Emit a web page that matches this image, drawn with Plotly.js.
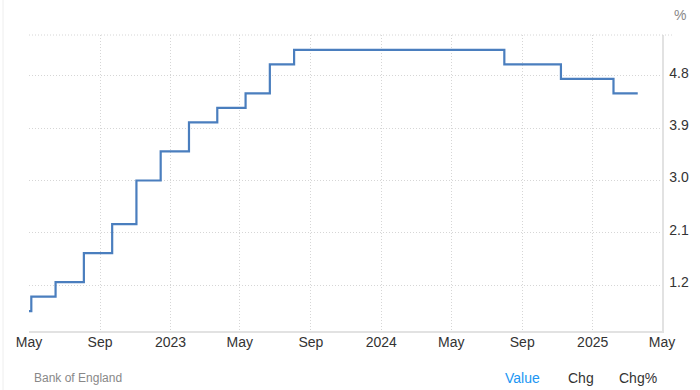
<!DOCTYPE html>
<html>
<head>
<meta charset="utf-8">
<script src="https://cdn.plot.ly/plotly-3.0.1.min.js"></script>
<style>
html,body{margin:0;padding:0;background:#fff;}
#chart{width:700px;height:390px;}
</style>
</head>
<body>
<div id="chart"></div>
<script>
var dates = ["2022-05-01","2022-05-05","2022-06-16","2022-08-04","2022-09-22","2022-11-03","2022-12-15","2023-02-02","2023-03-23","2023-05-11","2023-06-22","2023-08-03","2024-08-01","2024-11-07","2025-02-06","2025-03-20"];
var rates = [0.75,1.0,1.25,1.75,2.25,3.0,3.5,4.0,4.25,4.5,5.0,5.25,5.0,4.75,4.5,4.5];
var xTickVals = ["2022-05-01","2022-09-01","2023-01-01","2023-05-01","2023-09-01","2024-01-01","2024-05-01","2024-09-01","2025-01-01","2025-05-01"];
var xTickText = ["May","Sep","2023","May","Sep","2024","May","Sep","2025","May"];
var yTickVals = [1.2,2.1,3.0,3.9,4.8];
var yTickText = ["1.2","2.1","3.0","3.9","4.8"];

var trace = {
  x: dates, y: rates, type: "scatter", mode: "lines",
  line: {shape: "hv", color: "#4a7ebe", width: 2.2},
  hoverinfo: "x+y"
};

var layout = {
  width: 700, height: 390,
  margin: {l: 29, r: 38, t: 35, b: 59},
  paper_bgcolor: "#fff", plot_bgcolor: "#fff",
  showlegend: false,
  font: {family: "Liberation Sans, Arial, sans-serif", color: "#333", size: 14},
  xaxis: {
    type: "date",
    range: ["2022-05-01", "2025-05-01"],
    tickmode: "array", tickvals: xTickVals, ticktext: xTickText,
    showgrid: true, gridcolor: "#d6d6d6", griddash: "1px,2px", gridwidth: 1,
    showline: true, linecolor: "#e2e2e2", linewidth: 1.5,
    ticks: "", ticklabelstandoff: -2, tickfont: {size: 14, color: "#333"},
    zeroline: false, fixedrange: true
  },
  yaxis: {
    side: "right",
    range: [0.408, 5.506],
    tickmode: "array", tickvals: yTickVals, ticktext: yTickText,
    showgrid: true, gridcolor: "#d6d6d6", griddash: "1px,2px", gridwidth: 1,
    showline: true, linecolor: "#e2e2e2", linewidth: 1.5,
    ticks: "", ticklabelstandoff: 3, ticklabelshift: -3, tickfont: {size: 14, color: "#333"},
    zeroline: false, fixedrange: true
  },
  shapes: [
    {type: "line", xref: "paper", yref: "paper", x0: 0, x1: 1.0158, y0: 1, y1: 1,
     line: {color: "#d6d6d6", width: 1, dash: "1px,2px"}},
    {type: "line", xref: "paper", yref: "paper", x0: -0.041, x1: -0.041, y0: -0.2, y1: 1.15,
     line: {color: "#eeeeee", width: 1}}
  ],
  annotations: [
    {text: "%", xref: "paper", yref: "paper", x: (680-29)/633, y: (331-15)/296, xanchor: "center", yanchor: "middle",
     showarrow: false, font: {size: 14, color: "#888"}},
    {text: "Bank of England", xref: "paper", yref: "paper", x: 3/633, y: -47/296, xanchor: "left", yanchor: "middle",
     showarrow: false, font: {size: 12, color: "#888"}},
    {text: "Value", xref: "paper", yref: "paper", x: (522-29)/633, y: -47/296, xanchor: "center", yanchor: "middle",
     showarrow: false, font: {size: 14, color: "#2196f3"}},
    {text: "Chg", xref: "paper", yref: "paper", x: (581-29)/633, y: -47/296, xanchor: "center", yanchor: "middle",
     showarrow: false, font: {size: 14, color: "#333"}},
    {text: "Chg%", xref: "paper", yref: "paper", x: (638-29)/633, y: -47/296, xanchor: "center", yanchor: "middle",
     showarrow: false, font: {size: 14, color: "#333"}}
  ]
};

Plotly.newPlot("chart", [trace], layout, {displayModeBar: false, staticPlot: true});
</script>
</body>
</html>
